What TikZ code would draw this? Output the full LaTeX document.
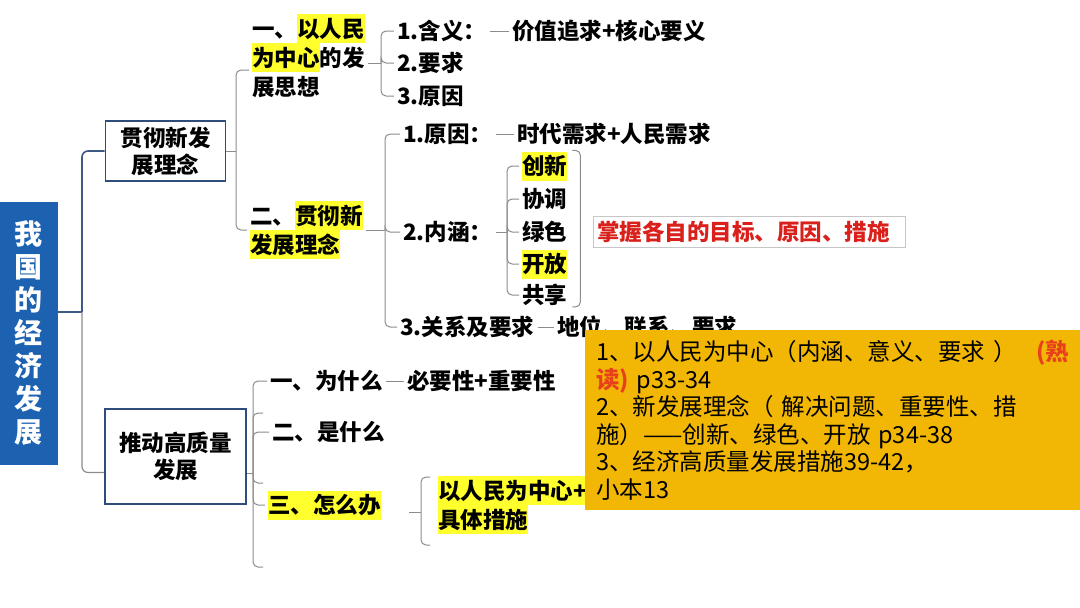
\documentclass[tikz,border=0pt]{standalone}
\usepackage{fontspec}
\setmainfont{Noto Sans CJK SC}
\usepackage{tikz}
\usetikzlibrary{positioning,calc}
\definecolor{rootblue}{HTML}{1C62B0}
\definecolor{boxblue}{HTML}{2F4C7C}
\definecolor{slateline}{HTML}{3E5A84}
\definecolor{linegray}{HTML}{8C8C8C}
\definecolor{hlyellow}{HTML}{FFFF2E}
\definecolor{notebg}{HTML}{F2B705}
\definecolor{notered}{HTML}{E8401C}
\definecolor{tipred}{HTML}{D9201B}
\newcommand{\hlt}[1]{{\setlength{\fboxsep}{0pt}\colorbox{hlyellow}{\rule[-6pt]{0pt}{29pt}#1}}}

\begin{document}
\begin{tikzpicture}[x=1pt,y=-1pt,
    txt/.style={anchor=west, inner xsep=3pt, inner ysep=1pt, align=left, font=\bfseries\fontsize{22.5}{29}\selectfont},
    topbox/.style={draw=boxblue, line width=1.8pt, align=center, inner sep=2pt, font=\bfseries\fontsize{22.5}{27}\selectfont},
    conn/.style={draw=linegray, line width=1pt, rounded corners=5pt},
    mainconn/.style={draw=slateline, line width=1.6pt, rounded corners=6pt}]
  \useasboundingbox (0,0) rectangle (1080,608);

  % Root and the two main topics
  \node[fill=rootblue, minimum width=58pt, minimum height=263pt, inner sep=0pt, text=white, align=center,
        font=\bfseries\fontsize{28}{33}\selectfont] (root) at (29,333.5) {我\\国\\的\\经\\济\\发\\展};
  \node[topbox, minimum width=120pt, minimum height=60pt] (idea) at (165.5,151) {贯彻新发\\展理念};
  \node[topbox, minimum width=141pt, minimum height=95pt] (quality) at (175.5,456.5) {推动高质量\\发展};
  \coordinate (jR) at (82,312);
  \draw[mainconn] ([yshift=21.5pt]root.east) -- (jR);
  \draw[mainconn] (jR) |- (idea.west);
  \draw[mainconn, draw=linegray, line width=1.2pt] (jR) |- ([yshift=-16pt]quality.west);

  % Upper branch
  \node[txt] (people) at (249,56) {一、\hlt{以人民}\\\hlt{为中心}的发\\展思想};
  \node[txt] (newidea) at (247,230) {二、\hlt{贯彻新}\\\hlt{发展理念}};
  \coordinate (jI) at (236,151);
  \draw[conn] (idea.east) -- (jI);
  \draw[conn] (jI) |- ([yshift=-14pt]people.west);
  \draw[conn] (jI) |- (newidea.west);

  \node[txt] (mean) at (394,31) {1.含义：};
  \node[txt] (meanv) at (509,31) {价值追求+核心要义};
  \node[txt] (req) at (394,63) {2.要求};
  \node[txt] (why) at (394,96) {3.原因};
  \coordinate (jP) at (381,63);
  \draw[conn] ([yshift=-7pt]people.east) -- (jP);
  \foreach \n in {mean,req,why} \draw[conn] (jP) |- (\n.west);
  \draw[conn] (mean) -- (meanv);

  \node[txt] (cause) at (400,134) {1.原因：};
  \node[txt] (causev) at (514,134) {时代需求+人民需求};
  \node[txt] (core) at (400,232) {2.内涵：};
  \node[txt] (rel) at (397,327) {3.关系及要求};
  \node[txt] (relv) at (554,327) {地位、联系、要求};
  \coordinate (jN) at (385,230);
  \draw[conn] (newidea.east) -- (jN);
  \foreach \n in {cause,core,rel} \draw[conn] (jN) |- (\n.west);
  \draw[conn] (cause) -- (causev);
  \draw[conn] (rel) -- (relv);

  % Five concepts
  \coordinate (jC) at (507,232);
  \draw[conn] (core) -- (jC);
  \foreach \n/\y/\lbl in {c1/166/\hlt{创新}, c2/199/协调, c3/232/绿色, c4/264/\hlt{开放}, c5/295/共享} {
    \node[txt] (\n) at (519,\y) {\lbl};
    \draw[conn] (jC) |- (\n.west);
  }
  \draw[conn] ([xshift=2pt]c1.north east) -- ++(8,0) |- ([xshift=2pt]c5.south east);
  \node[txt, draw=gray!45, line width=0.8pt, text=tipred, inner xsep=4pt, inner ysep=3pt,
        text width=304pt, minimum height=31pt] (tip) at (593,232) {掌握各自的目标、原因、措施};

  % Lower branch
  \coordinate (jQ) at (253,473);
  \draw[conn] ([yshift=-16.5pt]quality.east) -- (jQ);
  \node[txt] (whyq) at (267,381) {一、为什么};
  \node[txt] (whyv) at (404,381) {必要性+重要性};
  \node[txt] (what) at (269,432) {二、是什么};
  \node[txt] (how) at (265,505) {\hlt{三、怎么办}};
  \foreach \n in {whyq,what,how} \draw[conn] (jQ) |- (\n.west);
  \coordinate (endA) at (263,413);
  \coordinate (endB) at (263,483);
  \coordinate (endC) at (263,567);
  \foreach \n in {endA,endB,endC} \draw[conn] (jQ) |- (\n);
  \draw[conn] (whyq) -- (whyv);

  \node[txt] (measure) at (435,505) {\hlt{以人民为中心+}\\\hlt{具体措施}};
  \coordinate (jH) at (421,512);
  \coordinate (hookT) at (430,477);
  \coordinate (hookB) at (430,545);
  \draw[conn] ([xshift=25pt,yshift=-7pt]how.east) -- (jH);
  \draw[conn] (hookT) -| (jH) |- (hookB);

  % Note
  \node[anchor=north west, fill=notebg, text width=473pt, inner xsep=11pt, inner ysep=0pt, minimum height=180pt,
        align=left, font=\fontsize{23.5}{27.5}\selectfont] (note) at (585,330)
    {1、以人民为中心（内涵、意义、要求 ）\hfill{\color{notered}\bfseries (熟}\\
     {\color{notered}\bfseries 读)} p33-34\\
     2、新发展理念（ 解决问题、重要性、措\\
     施）——创新、绿色、开放 p34-38\\
     3、经济高质量发展措施39-42，\\
     小本13};
\end{tikzpicture}
\end{document}
